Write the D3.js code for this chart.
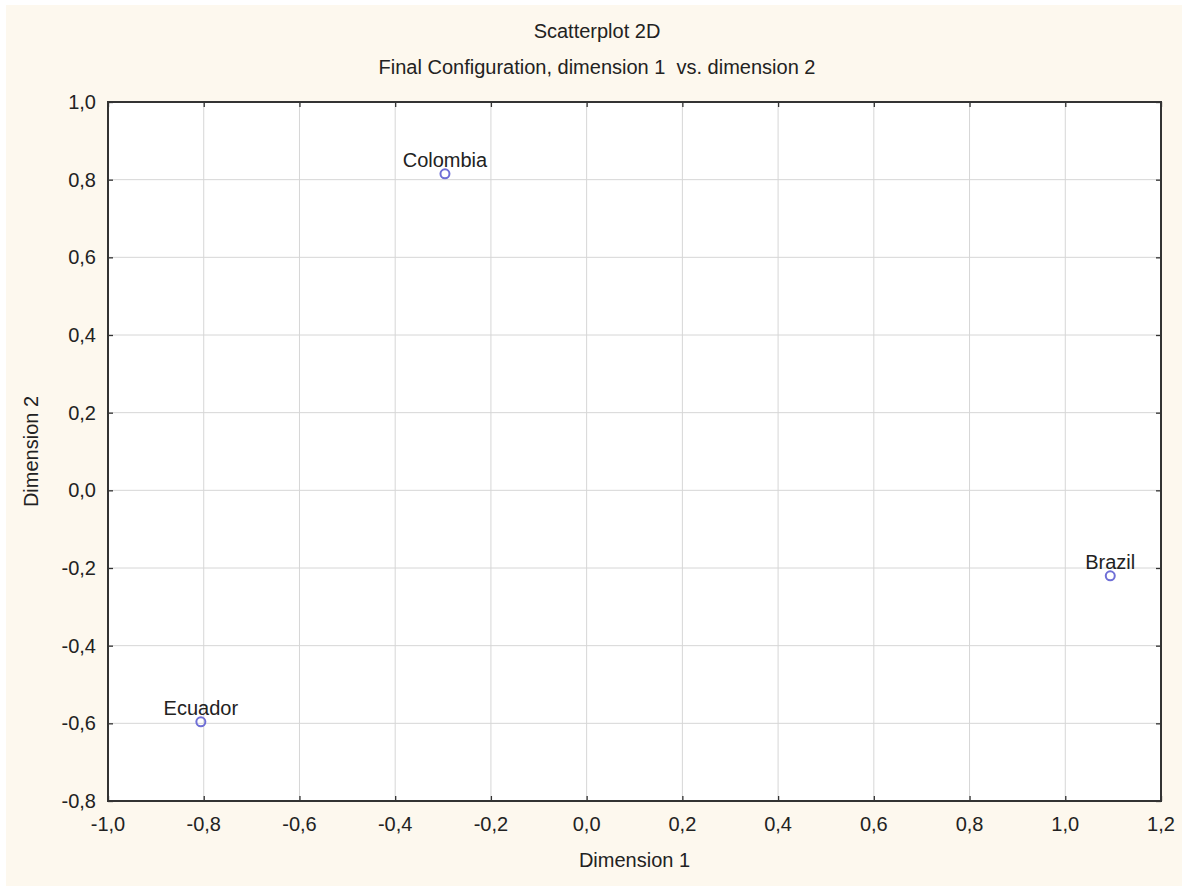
<!DOCTYPE html>
<html>
<head>
<meta charset="utf-8">
<script src="https://cdn.jsdelivr.net/npm/d3@7"></script>
<style>
  body { margin: 0; background: #fff; }
  text { font-family: Arial, "Liberation Sans", sans-serif; fill: #222; white-space: pre; }
</style>
</head>
<body>
<svg id="chart" width="1182" height="886"></svg>
<script>
// points of the final configuration
const labels = ["Colombia", "Brazil", "Ecuador"];
const dim1 = [-0.296, 1.094, -0.806];
const dim2 = [0.815, -0.22, -0.596];

const xTicks = [-1.0, -0.8, -0.6, -0.4, -0.2, 0.0, 0.2, 0.4, 0.6, 0.8, 1.0, 1.2];
const yTicks = [-0.8, -0.6, -0.4, -0.2, 0.0, 0.2, 0.4, 0.6, 0.8, 1.0];

const title = "Scatterplot 2D";
const subtitle = "Final Configuration, dimension 1  vs. dimension 2";
const xTitle = "Dimension 1";
const yTitle = "Dimension 2";

var margin = { top: 102, right: 21, bottom: 85, left: 108 };
var width = 1182, height = 886;
var fs = 20;
var svg = d3.select("#chart");

// cream page
svg.append("rect").attr("x", 6).attr("y", 5)
  .attr("width", width - 6).attr("height", height - 5).attr("fill", "#fdf8ee");

var x = d3.scaleLinear().domain([-1.0, 1.2]).range([margin.left, width - margin.right]);
var y = d3.scaleLinear().domain([-0.8, 1.0]).range([height - margin.bottom, margin.top]);

var fmt = function (d) { return d3.format(".1f")(d).replace(".", ",").replace("−", "-"); };

svg.append("rect")
  .attr("x", x(-1.0)).attr("y", y(1.0))
  .attr("width", x(1.2) - x(-1.0)).attr("height", y(-0.8) - y(1.0))
  .attr("fill", "#fff");

// grid
var grid = svg.append("g").attr("stroke", "#d6d6d6").attr("stroke-width", 1);
grid.selectAll(".gx").data(xTicks.slice(1, -1)).enter().append("line")
  .attr("x1", d => x(d)).attr("x2", d => x(d))
  .attr("y1", y(1.0)).attr("y2", y(-0.8));
grid.selectAll(".gy").data(yTicks.slice(1, -1)).enter().append("line")
  .attr("y1", d => y(d)).attr("y2", d => y(d))
  .attr("x1", x(-1.0)).attr("x2", x(1.2));

// axes with inner ticks on all four sides
var tl = 5;
svg.append("g").attr("transform", "translate(0," + y(-0.8) + ")")
  .call(d3.axisBottom(x).tickValues(xTicks).tickFormat("").tickSizeInner(-tl).tickSizeOuter(0));
svg.append("g").attr("transform", "translate(0," + y(1.0) + ")")
  .call(d3.axisTop(x).tickValues(xTicks).tickFormat("").tickSizeInner(-tl).tickSizeOuter(0));
svg.append("g").attr("transform", "translate(" + x(-1.0) + ",0)")
  .call(d3.axisLeft(y).tickValues(yTicks).tickFormat("").tickSizeInner(-tl).tickSizeOuter(0));
svg.append("g").attr("transform", "translate(" + x(1.2) + ",0)")
  .call(d3.axisRight(y).tickValues(yTicks).tickFormat("").tickSizeInner(-tl).tickSizeOuter(0));
svg.selectAll(".domain").remove();
svg.selectAll(".tick line").attr("stroke", "#333").attr("stroke-width", 1.3);

svg.append("rect")
  .attr("x", x(-1.0)).attr("y", y(1.0))
  .attr("width", x(1.2) - x(-1.0)).attr("height", y(-0.8) - y(1.0))
  .attr("fill", "none").attr("stroke", "#333").attr("stroke-width", 2);

// tick labels
svg.selectAll(".xl").data(xTicks).enter().append("text")
  .attr("x", d => x(d)).attr("y", y(-0.8) + 30)
  .attr("text-anchor", "middle").attr("font-size", fs)
  .text(fmt);
svg.selectAll(".yl").data(yTicks).enter().append("text")
  .attr("x", x(-1.0) - 12).attr("y", d => y(d)).attr("dy", "0.35em")
  .attr("text-anchor", "end").attr("font-size", fs)
  .text(fmt);

// titles
svg.append("text").attr("x", 597).attr("y", 38).attr("text-anchor", "middle")
  .attr("font-size", fs).text(title);
svg.append("text").attr("x", 597).attr("y", 74).attr("text-anchor", "middle")
  .attr("font-size", fs).text(subtitle);
svg.append("text").attr("x", (x(-1.0) + x(1.2)) / 2).attr("y", 867).attr("text-anchor", "middle")
  .attr("font-size", fs).text(xTitle);
svg.append("text")
  .attr("transform", "translate(38," + (y(1.0) + y(-0.8)) / 2 + ") rotate(-90)")
  .attr("text-anchor", "middle").attr("font-size", fs).text(yTitle);

// points
var pts = labels.map((l, i) => ({ label: l, d1: dim1[i], d2: dim2[i] }));
svg.selectAll(".pt").data(pts).enter().append("circle")
  .attr("cx", d => x(d.d1)).attr("cy", d => y(d.d2)).attr("r", 4.5)
  .attr("fill", "none").attr("stroke", "#6f6fd6").attr("stroke-width", 2);
svg.selectAll(".pl").data(pts).enter().append("text")
  .attr("x", d => x(d.d1)).attr("y", d => y(d.d2) - 7)
  .attr("text-anchor", "middle").attr("font-size", fs)
  .text(d => d.label);
</script>
</body>
</html>
